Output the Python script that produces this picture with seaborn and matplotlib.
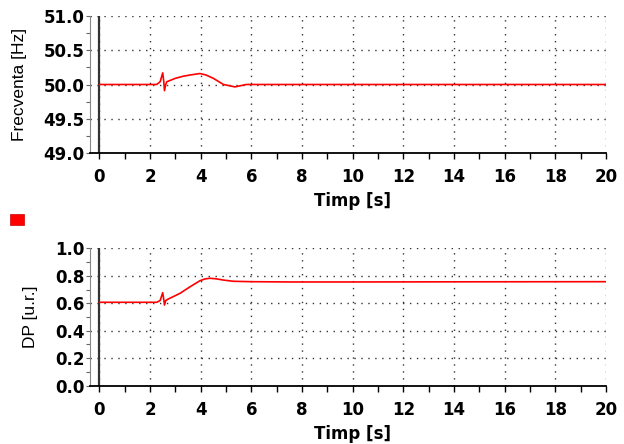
import numpy as np
import pandas as pd
import matplotlib
matplotlib.use("Agg")
import matplotlib.pyplot as plt
from matplotlib.patches import Rectangle
from matplotlib.ticker import MultipleLocator, FormatStrFormatter
import seaborn as sns

# ---- data ----
t_freq = [0.0, 1.0, 2.0, 2.26, 2.40, 2.50, 2.54, 2.57, 2.62, 2.66, 3.0, 3.3, 3.6, 3.97, 4.2, 4.5, 4.9, 5.1, 5.35, 5.8, 7.0, 10.0, 14.0, 20.0]
freq = [50.0, 50.0, 50.0, 50.0, 50.04, 50.17, 50.05, 49.91, 50.0, 50.04, 50.09, 50.12, 50.14, 50.16, 50.14, 50.09, 50.0, 49.985, 49.965, 50.0, 50.0, 50.0, 50.0, 50.0]

t_dp = [0.0, 1.0, 2.0, 2.26, 2.40, 2.50, 2.54, 2.57, 2.62, 2.70, 3.18, 3.58, 3.97, 4.17, 4.36, 4.6, 4.89, 5.28, 6.0, 7.5, 10.0, 14.0, 20.0]
dp = [0.607, 0.607, 0.607, 0.607, 0.62, 0.677, 0.63, 0.587, 0.619, 0.629, 0.672, 0.72, 0.764, 0.777, 0.782, 0.778, 0.769, 0.76, 0.757, 0.755, 0.755, 0.756, 0.757]

xlabel = "Timp [s]"
ylabel_top = "Frecventa [Hz]"
ylabel_bot = "DP [u.r.]"

df_f = pd.DataFrame({"t": t_freq, "v": freq})
df_p = pd.DataFrame({"t": t_dp, "v": dp})

sns.set_style("white")
plt.rcParams["font.family"] = ["DejaVu Sans"]
plt.rcParams["text.color"] = "black"
plt.rcParams["axes.labelcolor"] = "black"

fig = plt.figure(figsize=(6.24, 4.44), dpi=100)
ax1 = fig.add_axes([90/624, 1-153/444, (606-90)/624, (153-16)/444])
ax2 = fig.add_axes([90/624, 1-385.7/444, (606-90)/624, (385.7-248.3)/444])

def style(ax, df, ylim, ymaj, ymin, ylab):
    sns.lineplot(data=df, x="t", y="v", ax=ax, color="#ff0000", linewidth=1.2)
    ax.set_xlim(-0.37, 20.0)
    ax.set_ylim(*ylim)
    ax.xaxis.set_major_locator(MultipleLocator(2))
    ax.xaxis.set_minor_locator(MultipleLocator(1))
    ax.yaxis.set_major_locator(MultipleLocator(ymaj))
    ax.yaxis.set_minor_locator(MultipleLocator(ymin))
    ax.yaxis.set_major_formatter(FormatStrFormatter("%.1f"))
    ax.grid(True, which="major", linestyle=(0, (1, 4)), color="#333333", linewidth=1.0)
    ax.set_axisbelow(True)
    for s in ["top", "right"]:
        ax.spines[s].set_visible(False)
    ax.spines["left"].set_color("#888888")
    ax.spines["left"].set_linewidth(0.8)
    ax.spines["bottom"].set_color("black")
    ax.spines["bottom"].set_linewidth(1.3)
    ax.axvline(0, color="#333333", linewidth=1.6, zorder=1.5)
    ax.tick_params(axis="x", which="both", direction="out", length=4, width=1, color="black",
                   pad=7, labelsize=12, bottom=True, labelcolor="black")
    ax.tick_params(axis="y", which="both", direction="out", length=3, width=0.8, color="#666666",
                   pad=1, labelsize=12, left=True, labelcolor="black")
    ax.set_xlabel(xlabel, fontsize=12, fontweight="bold", labelpad=4, color="black")
    ax.xaxis.label.set_x(0.509)
    ax.set_ylabel(ylab, fontsize=12.5, family=["Liberation Sans"], labelpad=12, color="black")
    for lab in ax.get_xticklabels() + ax.get_yticklabels():
        lab.set_fontweight("bold")

style(ax1, df_f, (49.0, 51.0), 0.5, 0.25, ylabel_top)
style(ax2, df_p, (0.0, 1.0), 0.2, 0.1, ylabel_bot)

fig.patches.append(Rectangle((10/624, 1-225/444), 14/624, 11/444, transform=fig.transFigure,
                             facecolor="#ff0000", edgecolor="#cc0000", linewidth=0.5))

fig.savefig("out.png", dpi=100, facecolor="white")
